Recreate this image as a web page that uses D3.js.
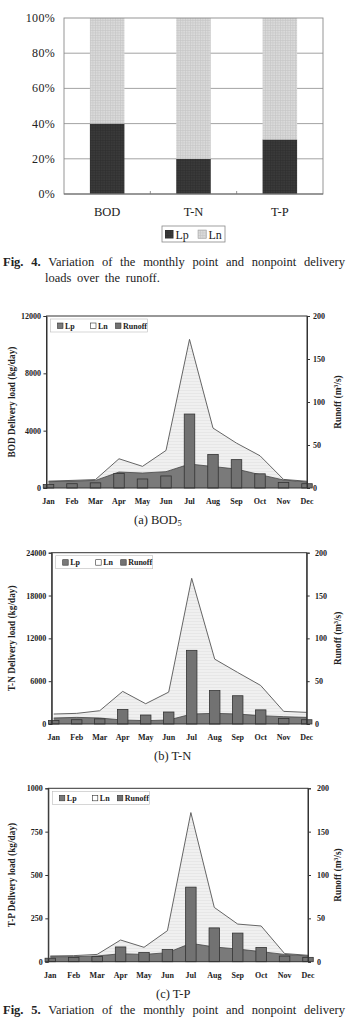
<!DOCTYPE html>
<html><head><meta charset="utf-8">
<script src="https://cdn.jsdelivr.net/npm/d3@7"></script>
<style>
html,body{margin:0;padding:0;background:#fff;}
svg{display:block;}
text{font-family:"Liberation Serif","DejaVu Serif",serif;fill:#222;}
</style></head>
<body>
<svg id="c" width="349" height="1020"></svg>
<script>
// ---------- DATA ----------
const fig4Categories = ["BOD", "T-N", "T-P"];
const fig4Lp = [40, 20, 31];
const fig4Ln = [60, 80, 69];
const fig4Ticks = [0, 20, 40, 60, 80, 100];

const months = ["Jan","Feb","Mar","Apr","May","Jun","Jul","Aug","Sep","Oct","Nov","Dec"];
const runoff = [4, 5, 6, 17, 10.5, 14, 86, 39, 33, 16.5, 6.5, 5];
const runoffTicks = [0, 50, 100, 150, 200];

const bodLp = [440, 480, 530, 1115, 1045, 1140, 1670, 1500, 1320, 930, 560, 420];
const bodLn = [40, 50, 60, 925, 465, 1480, 8700, 2680, 1810, 1320, 40, 50];
const bodTicks = [0, 4000, 8000, 12000];

const tnLp = [840, 930, 840, 560, 470, 560, 1400, 1490, 1400, 1165, 1025, 930];
const tnLn = [560, 560, 1020, 4010, 2370, 3910, 19010, 7600, 5820, 4235, 745, 700];
const tnTicks = [0, 6000, 12000, 18000, 24000];

const tpLp = [29, 29, 33, 46, 42, 52, 106, 85, 73, 58, 42, 33];
const tpLn = [4, 6, 9, 79, 41, 127, 754, 228, 144, 148, 5, 4];
const tpTicks = [0, 250, 500, 750, 1000];

// ---------- SETUP ----------
const svg = d3.select("#c");
const defs = svg.append("defs");
function pat(id, base, line, size, horizOnly){
  const p = defs.append("pattern").attr("id", id).attr("patternUnits","userSpaceOnUse")
    .attr("width", size).attr("height", size);
  p.append("rect").attr("width", size).attr("height", size).attr("fill", base);
  p.append("rect").attr("width", size).attr("height", 0.6).attr("fill", line);
  if(!horizOnly) p.append("rect").attr("width", 0.6).attr("height", size).attr("fill", line);
}
pat("lnPat4", "#dadada", "#c6c6c6", 2.5, false);
pat("lpPat4", "#3a3a3a", "#2e2e2e", 2.5, false);
pat("lnPat", "#f0f0f0", "#e2e2e2", 3, true);

// justified caption
function justifyLine(words, x0, x1, y, fs, boldN){
  const g = svg.append("g");
  const nodes = words.map((w,i)=> g.append("text").attr("y", y).attr("font-size", fs)
      .attr("font-weight", i < boldN ? "bold" : "normal").text(w));
  const widths = nodes.map(n => n.node().getComputedTextLength());
  const total = d3.sum(widths);
  const gap = (x1 - x0 - total) / (words.length - 1);
  let x = x0;
  nodes.forEach((n,i)=>{ n.attr("x", x); x += widths[i] + gap; });
}

// ---------- FIG 4 ----------
(function(){
  const L = 64, R = 323, T = 18, B = 194;
  const x = d3.scaleBand().domain(fig4Categories).range([L, R]).paddingInner(0.6).paddingOuter(0.3);
  const y = d3.scaleLinear().domain([0, 100]).range([B, T]);
  const g = svg.append("g");
  // gridlines
  g.selectAll("line.grid").data(fig4Ticks.slice(1,-1)).join("line")
    .attr("x1", L).attr("x2", R).attr("y1", d=>y(d)).attr("y2", d=>y(d))
    .attr("stroke", "#8c8c8c").attr("stroke-width", 0.8);
  // bars
  g.selectAll("rect.lp").data(fig4Categories).join("rect")
    .attr("x", d=>x(d)).attr("width", x.bandwidth())
    .attr("y", (d,i)=>y(fig4Lp[i])).attr("height", (d,i)=>B - y(fig4Lp[i]))
    .attr("fill", "url(#lpPat4)");
  g.selectAll("rect.ln").data(fig4Categories).join("rect")
    .attr("x", d=>x(d)).attr("width", x.bandwidth())
    .attr("y", (d,i)=>y(fig4Lp[i] + fig4Ln[i])).attr("height", (d,i)=>y(fig4Lp[i]) - y(fig4Lp[i] + fig4Ln[i]))
    .attr("fill", "url(#lnPat4)");
  // frame
  g.append("rect").attr("x", L).attr("y", T).attr("width", R-L).attr("height", B-T)
    .attr("fill", "none").attr("stroke", "#8a8a8a").attr("stroke-width", 0.9);
  g.append("line").attr("x1", L).attr("x2", R).attr("y1", B).attr("y2", B).attr("stroke", "#666").attr("stroke-width", 1);
  // category boundary ticks
  const step = x.step();
  [1,2].forEach(k=>{
    const xx = L + (R-L)/3*k;
    g.append("line").attr("x1", xx).attr("x2", xx).attr("y1", B).attr("y2", B-3).attr("stroke", "#777").attr("stroke-width", 0.8);
  });
  // y tick labels
  g.selectAll("text.yt").data(fig4Ticks).join("text")
    .attr("x", 55).attr("y", d=>y(d)+4).attr("text-anchor", "end")
    .attr("font-size", 12).attr("letter-spacing", 0.3).text(d=>d + "%");
  // category labels
  g.selectAll("text.xl").data(fig4Categories).join("text")
    .attr("x", d=>x(d) + x.bandwidth()/2).attr("y", 216).attr("text-anchor", "middle")
    .attr("font-size", 12.5).text(d=>d);
  // legend
  const lg = g.append("g");
  lg.append("rect").attr("x", 162).attr("y", 226).attr("width", 63).attr("height", 16)
    .attr("fill", "#fff").attr("stroke", "#888").attr("stroke-width", 0.8);
  lg.append("rect").attr("x", 165).attr("y", 230).attr("width", 8.5).attr("height", 8.5).attr("fill", "url(#lpPat4)");
  lg.append("text").attr("x", 175.5).attr("y", 238.5).attr("font-size", 12).text("Lp");
  lg.append("rect").attr("x", 198).attr("y", 230).attr("width", 8.5).attr("height", 8.5).attr("fill", "url(#lnPat4)").attr("stroke", "#999").attr("stroke-width", 0.5);
  lg.append("text").attr("x", 208.5).attr("y", 238.5).attr("font-size", 12).text("Ln");
  // caption
  justifyLine(["Fig.","4.","Variation","of","the","monthly","point","and","nonpoint","delivery"], 3, 345, 266, 12.5, 2);
  svg.append("text").attr("x", 45).attr("y", 282).attr("font-size", 12.5).attr("word-spacing", 2.5).text("loads over the runoff.");
})();

// ---------- MONTHLY CHARTS ----------
function monthly(cfg){
  const {L, R, T, B, lp, ln, ticks, ymax, title, caption, capX, leftTitle, rtX} = cfg;
  const g = svg.append("g");
  const x = d3.scalePoint().domain(months).range([L + 2, R]);
  const y = d3.scaleLinear().domain([0, ymax]).range([B, T]);
  const y2 = d3.scaleLinear().domain([0, 200]).range([B, T]);
  const stackData = months.map((m,i)=>({m, lp: lp[i], ln: ln[i]}));
  const stack = d3.stack().keys(["lp","ln"])(stackData);
  const area = d3.area().x(d=>x(d.data.m)).y0(d=>y(d[0])).y1(d=>y(d[1]));
  const topLine = d3.line().x(d=>x(d.data.m)).y(d=>y(d[1]));
  // Ln area (stacked above Lp)
  g.append("path").datum(stack[1]).attr("d", area).attr("fill", "url(#lnPat)");
  g.append("path").datum(stack[1]).attr("d", topLine).attr("fill", "none").attr("stroke", "#555").attr("stroke-width", 0.9);
  // Lp area
  g.append("path").datum(stack[0]).attr("d", area).attr("fill", "#7a7a7a");
  g.append("path").datum(stack[0]).attr("d", topLine).attr("fill", "none").attr("stroke", "#444").attr("stroke-width", 0.8);
  // Runoff bars
  const bw = 10.5;
  g.selectAll("rect.bar").data(months).join("rect")
    .attr("x", d=>x(d) - bw/2).attr("width", bw)
    .attr("y", (d,i)=>y2(runoff[i])).attr("height", (d,i)=>B - y2(runoff[i]))
    .attr("fill", "#727272").attr("stroke", "#333").attr("stroke-width", 0.8);
  // frame
  g.append("rect").attr("x", L).attr("y", T).attr("width", R-L).attr("height", B-T)
    .attr("fill", "none").attr("stroke", "#333").attr("stroke-width", 1);
  // axes
  const ay = d3.axisLeft(y).tickValues(ticks).tickSize(3).tickFormat(d3.format("d"));
  const ay2 = d3.axisRight(y2).tickValues(runoffTicks).tickSize(3);
  const gl = g.append("g").attr("transform", `translate(${L},0)`).call(ay);
  const gr = g.append("g").attr("transform", `translate(${R},0)`).call(ay2);
  [gl, gr].forEach(a=>{
    a.select(".domain").attr("stroke", "#333");
    a.selectAll(".tick line").attr("stroke", "#333");
    a.selectAll(".tick text").attr("font-family", "Liberation Serif, serif").attr("font-weight", "bold")
      .attr("font-size", 8).attr("fill", "#222");
  });
  gl.selectAll(".tick text").attr("x", -5.5);
  gr.selectAll(".tick text").attr("x", rtX - R);
  // month labels
  g.selectAll("text.m").data(months).join("text")
    .attr("x", d=>x(d)).attr("y", B + 16).attr("text-anchor", "middle")
    .attr("font-size", 8).attr("font-weight", "bold").text(d=>d);
  // axis titles
  const cy = (T + B)/2;
  g.append("text").attr("transform", `translate(15,${cy}) rotate(-90)`).attr("text-anchor", "middle")
    .attr("font-size", 9.3).attr("font-weight", "bold").text(leftTitle);
  const rt = g.append("text").attr("transform", `translate(341,${cy}) rotate(-90)`).attr("text-anchor", "middle")
    .attr("font-size", 9.3).attr("font-weight", "bold");
  rt.append("tspan").text("Runoff (m");
  rt.append("tspan").attr("font-size", 6).attr("dy", -3.5).text("3");
  rt.append("tspan").attr("dy", 3.5).text("/s)");
  // legend
  const lx = L + 4, ly = T + 3;
  const lg = g.append("g");
  lg.append("rect").attr("x", lx).attr("y", ly).attr("width", 97).attr("height", 13)
    .attr("fill", "#fff").attr("stroke", "#bbb").attr("stroke-width", 0.6);
  const items = [["Lp", "#7a7a7a", 7], ["Ln", "#fff", 40], ["Runoff", "#727272", 65]];
  items.forEach(([t, c, dx])=>{
    lg.append("rect").attr("x", lx + dx).attr("y", ly + 4).attr("width", 5.5).attr("height", 5.5)
      .attr("fill", c).attr("stroke", "#333").attr("stroke-width", 0.6);
    lg.append("text").attr("x", lx + dx + 7.5).attr("y", ly + 9.5).attr("font-size", 8).attr("font-weight", "bold").text(t);
  });
  // caption
  const cap = svg.append("text").attr("x", capX).attr("y", B + 36).attr("font-size", 12.5);
  cap.append("tspan").text(caption[0]);
  if (caption[1]) cap.append("tspan").attr("font-size", 8.5).attr("dy", 2).text(caption[1]);
}

monthly({L: 46.5, R: 307, T: 316, B: 488, lp: bodLp, ln: bodLn, ticks: bodTicks, ymax: 12000,
  leftTitle: "BOD Delivery load (kg/day)", caption: ["(a)  BOD", "5"], capX: 134, rtX: 313});
monthly({L: 51.7, R: 306.7, T: 552.7, B: 724, lp: tnLp, ln: tnLn, ticks: tnTicks, ymax: 24000,
  leftTitle: "T-N Delivery load (kg/day)", caption: ["(b)  T-N"], capX: 154, rtX: 315});
monthly({L: 48.3, R: 308, T: 788.3, B: 961.7, lp: tpLp, ln: tpLn, ticks: tpTicks, ymax: 1000,
  leftTitle: "T-P Delivery load (kg/day)", caption: ["(c)  T-P"], capX: 156, rtX: 317});

justifyLine(["Fig.","5.","Variation","of","the","monthly","point","and","nonpoint","delivery"], 3, 345, 1013.5, 12.5, 2);
</script>
</body></html>
